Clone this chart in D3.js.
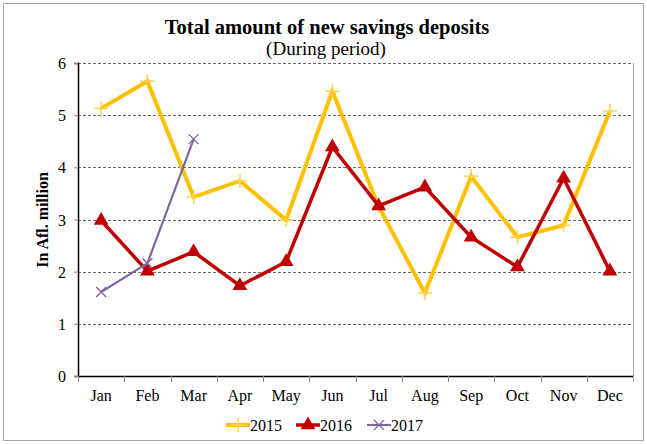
<!DOCTYPE html>
<html><head><meta charset="utf-8">
<script src="https://cdn.jsdelivr.net/npm/d3@7"></script>
<style>body{margin:0;background:#fff}svg{display:block}</style>
</head><body><svg id="c" width="647" height="444"></svg>
<script>
const months=["Jan","Feb","Mar","Apr","May","Jun","Jul","Aug","Sep","Oct","Nov","Dec"];
const y2015=[5.13,5.65,3.43,3.74,2.99,5.46,3.25,1.59,3.83,2.66,2.89,5.08];
const y2016=[2.98,2.01,2.38,1.73,2.19,4.39,3.26,3.62,2.66,2.09,3.79,2.01];
const y2017=[1.61,2.16,4.54];
const yTicks=[0,1,2,3,4,5,6];
const seriesNames=["2015","2016","2017"];

const FONT="'Liberation Serif','Times New Roman',Times,serif";
const svg=d3.select("#c");
const L=78,R=633,T=63,B=376;
svg.append("rect").attr("x",3.5).attr("y",3.5).attr("width",640).attr("height",437).attr("fill","#fff").attr("stroke","#a6a6a6");
const x=d3.scaleBand().domain(months).range([L,R]);
const y=d3.scaleLinear().domain([0,6]).range([B,T]);

// gridlines
svg.append("g").selectAll("line").data(yTicks.filter(d=>d>0)).join("line")
 .attr("x1",L).attr("x2",R).attr("y1",d=>Math.round(y(d))+0.5).attr("y2",d=>Math.round(y(d))+0.5)
 .attr("stroke","#666").attr("stroke-dasharray","3,2").attr("stroke-width",1);
// right border
svg.append("line").attr("x1",R+0.5).attr("x2",R+0.5).attr("y1",T).attr("y2",B+6).attr("stroke","#a6a6a6");

// y axis
const ya=svg.append("g").attr("transform",`translate(${L},0)`).call(d3.axisLeft(y).tickValues(yTicks).tickFormat(d3.format("d")).tickSize(4).tickPadding(8));
ya.select(".domain").attr("stroke","#000").attr("stroke-width",1.5);
ya.selectAll(".tick line").attr("stroke","#888");
ya.selectAll("text").attr("font-family",FONT).attr("font-size",16).attr("dy","0.35em");
// x axis
const xa=svg.append("g").attr("transform",`translate(0,${B})`).call(d3.axisBottom(x).tickSize(0).tickPadding(14));
xa.select(".domain").attr("stroke","#000").attr("stroke-width",1.5);
xa.selectAll("text").attr("font-family",FONT).attr("font-size",16);
svg.append("g").selectAll("line").data(months.concat(["end"])).join("line")
 .attr("x1",(d,i)=>Math.round(L+i*x.bandwidth())+0.5).attr("x2",(d,i)=>Math.round(L+i*x.bandwidth())+0.5)
 .attr("y1",B).attr("y2",B+6).attr("stroke",(d,i)=>i==12?"#a6a6a6":"#888");

// titles
svg.append("text").attr("x",327).attr("y",34).attr("text-anchor","middle").attr("font-family",FONT).attr("font-size",20.5).attr("font-weight","bold").text("Total amount of new savings deposits");
svg.append("text").attr("x",326).attr("y",55).attr("text-anchor","middle").attr("font-family",FONT).attr("font-size",19).text("(During period)");
svg.append("text").attr("transform",`translate(48,220) rotate(-90)`).attr("text-anchor","middle").attr("font-family",FONT).attr("font-size",16).attr("font-weight","bold").text("In Afl. million");

const cx=(d,i)=>x(months[i])+x.bandwidth()/2;
const line=d3.line().x(cx).y(d=>y(d));
const conf=[
 {data:y2015,color:"#FFC000",w:4,mark:"plus"},
 {data:y2016,color:"#C00000",w:3.5,mark:"tri"},
 {data:y2017,color:"#8064A2",w:2.2,mark:"x"}];
function drawMark(g,m,c,px,py){
 if(m=="plus"){g.append("path").attr("d",`M${px-7},${py}H${px+7}M${px},${py-7}V${py+7}`).attr("stroke","#FFD24D").attr("stroke-width",1.5);}
 else if(m=="tri"){g.append("path").attr("d",d3.symbol(d3.symbolTriangle,95)()).attr("transform",`translate(${px},${py})`).attr("fill",c);}
 else {g.append("path").attr("d",`M${px-5},${py-5}L${px+5},${py+5}M${px-5},${py+5}L${px+5},${py-5}`).attr("stroke",c).attr("stroke-width",1.3);}
}
conf.forEach(s=>{
 const g=svg.append("g");
 g.append("path").attr("d",line(s.data)).attr("fill","none").attr("stroke",s.color).attr("stroke-width",s.w).attr("stroke-linejoin","miter");
 s.data.forEach((d,i)=>drawMark(g,s.mark,s.color,cx(d,i),y(d)));
});

// legend
const lx=[226,296,367];
conf.forEach((s,i)=>{
 const g=svg.append("g");
 g.append("line").attr("x1",lx[i]).attr("x2",lx[i]+24).attr("y1",425).attr("y2",425).attr("stroke",s.color).attr("stroke-width",s.w);
 drawMark(g,s.mark,s.color,lx[i]+12,425);
 g.append("text").attr("x",lx[i]+24).attr("y",431).attr("font-family",FONT).attr("font-size",16).text(seriesNames[i]);
});
</script></body></html>
